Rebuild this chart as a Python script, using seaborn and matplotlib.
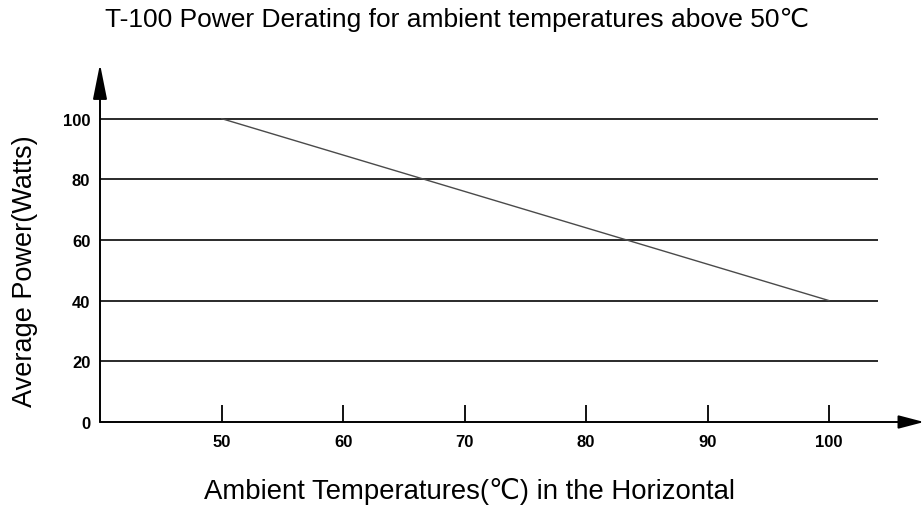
import numpy as np
import pandas as pd
import matplotlib
matplotlib.use("Agg")
import matplotlib.pyplot as plt
import seaborn as sns

# derating curve
temps = [50, 100]
power = [100, 40]
x_ticks = [50, 60, 70, 80, 90, 100]
y_ticks = [0, 20, 40, 60, 80, 100]
grid_levels = [20, 40, 60, 80, 100]

sns.set_theme(style="white")
plt.rcParams['font.family'] = ['Liberation Sans', 'DejaVu Sans']
plt.rcParams['text.color'] = 'black'
plt.rcParams['axes.labelcolor'] = 'black'
plt.rcParams['xtick.color'] = 'black'
plt.rcParams['ytick.color'] = 'black'

fig = plt.figure(figsize=(9.24, 5.10), dpi=100)
ax = fig.add_axes([100 / 924, 87 / 510, 824 / 924, 358 / 510])

x_min, x_max = 40, 107.8
y_min, y_max = 0, 118

# horizontal grid
ax.hlines(grid_levels, x_min, 104, color="#2a2a2a", lw=1.4, zorder=1)

df = pd.DataFrame({"temp": temps, "power": power})
sns.lineplot(data=df, x="temp", y="power", ax=ax, color="#4a4a4a", lw=1.0, zorder=2)

# axes with arrows
ax.annotate("", xy=(x_max, 0), xytext=(x_min, 0),
            arrowprops=dict(arrowstyle="-|>,head_length=1.3,head_width=0.34",
                            color="black", lw=1.4, shrinkA=0, shrinkB=0),
            annotation_clip=False)
ax.annotate("", xy=(x_min, y_max), xytext=(x_min, 0),
            arrowprops=dict(arrowstyle="-|>,head_length=1.8,head_width=0.36",
                            color="black", lw=1.4, shrinkA=0, shrinkB=0),
            annotation_clip=False)

ax.set_xlim(x_min, x_max)
ax.set_ylim(y_min, y_max)
for s in ax.spines.values():
    s.set_visible(False)

ax.set_xticks(x_ticks)
ax.set_yticks(y_ticks)
ax.tick_params(axis="x", direction="in", length=12, width=1.3, color="black",
               bottom=True, pad=9, labelsize=12)
ax.tick_params(axis="y", length=0, pad=7, labelsize=12)
for lab in ax.get_xticklabels() + ax.get_yticklabels():
    lab.set_fontweight("bold")

ax.set_xlabel("Ambient Temperatures(℃) in the Horizontal", fontsize=19.8, va="center")
ax.xaxis.set_label_coords(0.449, -0.19)
ax.set_ylabel("Average Power(Watts)", fontsize=19.5, va="center")
ax.yaxis.set_label_coords(-0.091, 0.425)
fig.text(457 / 924, 1 - 20 / 510, "T-100 Power Derating for ambient temperatures above 50℃",
         ha="center", va="center", fontsize=19)

fig.savefig("out.png", dpi=100)
